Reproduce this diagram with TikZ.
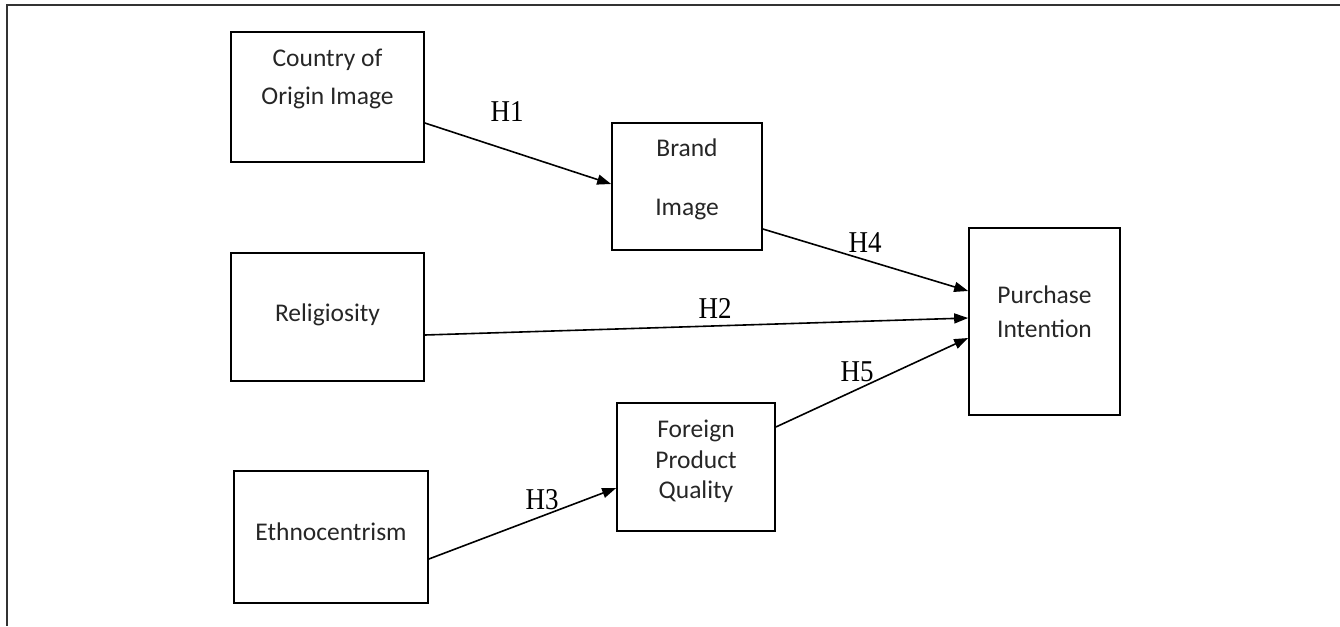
\documentclass[tikz,border=0pt]{standalone}
\usepackage{fontspec}
\setmainfont{Carlito}
\newfontfamily\hfont{Liberation Serif}
\usetikzlibrary{arrows.meta}
\tikzset{
  box/.style={draw=black, line width=1.7pt, rectangle, inner sep=0pt},
  boxtext/.style={font=\fontsize{25.5}{31}\selectfont, align=center, text=black!85, inner sep=0pt},
  hyp/.style={font=\hfont\fontsize{27}{30}\selectfont, inner sep=0pt, text=black},
  arr/.style={line width=1.6pt, -{Triangle[length=14pt,width=10pt]}},
  frame/.style={line width=1.2pt, draw=black!80}
}
\newcommand{\hlab}[1]{\scalebox{1}[1.12]{#1}}
\begin{document}
\begin{tikzpicture}[x=1pt,y=-1pt]
\useasboundingbox (0,0) rectangle (1340,626);
\coordinate (ftr) at (1340,5);
\coordinate (ftl) at (7,5);
\coordinate (fbl) at (7,626);
\draw[frame] (ftr) -- (ftl) -- (fbl);

% boxes
\node[box, minimum width=193pt, minimum height=130pt] (coo) at (327.5,97) {};
\node[box, minimum width=150pt, minimum height=127pt] (brand) at (687,186.5) {};
\node[box, minimum width=193pt, minimum height=128pt] (rel) at (327.5,317) {};
\node[box, minimum width=194pt, minimum height=132pt] (eth) at (331,537) {};
\node[box, minimum width=158pt, minimum height=128pt] (fpq) at (696,467) {};
\node[box, minimum width=151pt, minimum height=187pt] (pi) at (1044.5,321.5) {};

% texts
\node[boxtext] (tcoo) at (327.5,79) {Country of\\[7pt]Origin Image};
\node[boxtext] (tbrand) at (687,179.5) {Brand\\[28pt]Image};
\node[boxtext] (trel) at (327.5,315) {Religiosity};
\node[boxtext] (teth) at (331,532) {Ethnocentrism};
\node[boxtext, font=\fontsize{25.5}{30.5}\selectfont] (tfpq) at (696,461.5) {Foreign\\Product\\Quality};
\node[boxtext] (tpi) at (1044.5,312) {Purchase\\[3pt]Intention};

% connectors
\draw[arr] ([yshift=-26pt]coo.east) -- ([yshift=2.5pt]brand.west);
\draw[arr] ([yshift=-42.5pt]brand.east) -- ([yshift=30.5pt]pi.west);
\draw[arr] ([yshift=-18pt]rel.east) -- ([yshift=3.5pt]pi.west);
\draw[arr] ([yshift=40pt]fpq.east) -- ([yshift=-16.5pt]pi.west);
\draw[arr] ([yshift=-22pt]eth.east) -- ([yshift=-21pt]fpq.west);

% labels
\node[hyp] (h1) at (507,112) {\hlab{H1}};
\node[hyp] (h4) at (865,243) {\hlab{H4}};
\node[hyp] (h2) at (715,308) {\hlab{H2}};
\node[hyp] (h5) at (857,372) {\hlab{H5}};
\node[hyp] (h3) at (542,500) {\hlab{H3}};
\end{tikzpicture}
\end{document}
